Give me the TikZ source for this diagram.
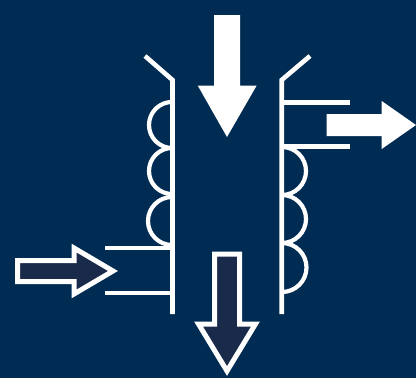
\documentclass[tikz,border=0pt]{standalone}
\definecolor{bgblue}{HTML}{002B52}
\definecolor{fillblue}{HTML}{1A2A4B}
\tikzset{
  wall/.style={draw=white,line width=4.6pt,line join=miter},
  coil/.style={draw=white,line width=4.2pt},
  solidarrow/.style={fill=white,draw=none},
  hollowarrow/.style={fill=fillblue,draw=white,line width=5pt,line join=miter}
}
\begin{document}
\begin{tikzpicture}[x=1pt,y=-1pt]
\useasboundingbox (0,0) rectangle (416,378);
\fill[bgblue] (0,0) rectangle (416,378);
% coils
\draw[coil] (172,102) arc[start angle=90,end angle=270,radius=23pt];
\draw[coil] (172,148) arc[start angle=90,end angle=270,radius=23pt];
\draw[coil] (172,197) arc[start angle=90,end angle=270,radius=24pt];
\draw[coil] (282,147) arc[start angle=90,end angle=-90,radius=24pt];
\draw[coil] (282,195) arc[start angle=90,end angle=-90,radius=24pt];
\draw[coil] (282,243) arc[start angle=90,end angle=-90,radius=24.5pt];
% walls and flaps
\draw[wall] (145,56) -- (172.5,80) -- (172.5,314);
\draw[wall] (310,56) -- (281.7,80) -- (281.7,314);
% stubs
\draw[wall] (105,248) -- (172.5,248);
\draw[wall] (105,293) -- (172.5,293);
\draw[wall] (281.7,102.7) -- (350,102.7);
\draw[wall] (281.7,146.7) -- (350,146.7);
% solid arrows
\fill[solidarrow] (214,15) -- (240,15) -- (240,85.5) -- (256.7,85.5) -- (227,137) -- (197.7,85.5) -- (214,85.5) -- cycle;
\fill[solidarrow] (326.7,114) -- (381.7,114) -- (381.7,101) -- (416,125) -- (381.7,149) -- (381.7,136) -- (326.7,136) -- cycle;
% hollow arrows
\draw[hollowarrow] (17.5,260.5) -- (74,260.5) -- (74,248) -- (113,271) -- (74,294) -- (74,281.5) -- (17.5,281.5) -- cycle;
\draw[hollowarrow] (214.5,254) -- (239.5,254) -- (239.5,324) -- (255.5,324) -- (227,371) -- (198.5,324) -- (214.5,324) -- cycle;
\end{tikzpicture}
\end{document}
